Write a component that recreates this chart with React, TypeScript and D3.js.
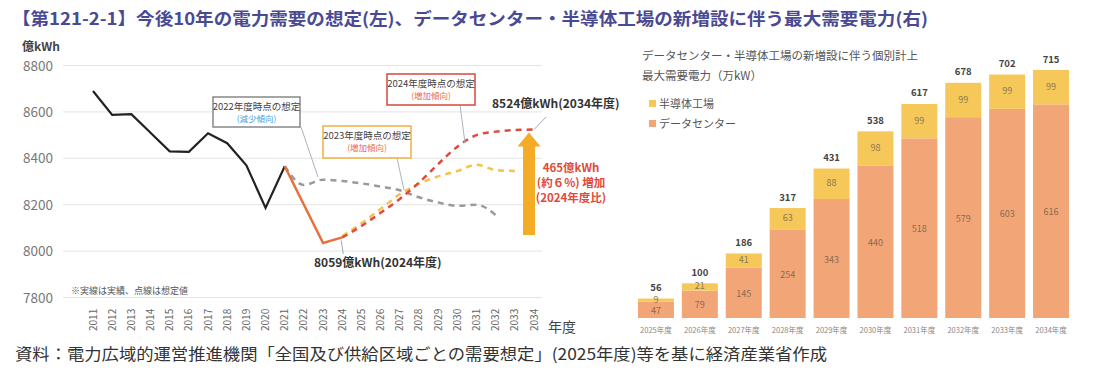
import React, { useRef, useEffect } from "react";
import * as d3 from "d3";

// left chart: demand outlook (億kWh)
const years = d3.range(2011, 2035).map(String);
const actualYears = ["2011", "2012", "2013", "2014", "2015", "2016", "2017", "2018", "2019", "2020", "2021"];
const actualValues = [8690, 8587, 8590, 8510, 8430, 8428, 8508, 8465, 8370, 8186, 8366];
const recentYears = ["2021", "2022", "2023", "2024"];
const recentValues = [8366, 8200, 8035, 8059];
const fc2022Years = ["2021", "2022", "2023", "2024", "2025", "2026", "2027", "2028", "2029", "2030", "2031", "2032"];
const fc2022Values = [8366, 8285, 8308, 8302, 8292, 8278, 8262, 8232, 8210, 8195, 8200, 8155];
const fc2023Years = ["2024", "2025", "2026", "2027", "2028", "2029", "2030", "2031", "2032", "2033"];
const fc2023Values = [8065, 8120, 8182, 8245, 8290, 8322, 8345, 8372, 8350, 8345];
const fc2024Years = ["2024", "2025", "2026", "2027", "2028", "2029", "2030", "2031", "2032", "2033", "2034"];
const fc2024Values = [8059, 8108, 8165, 8225, 8295, 8375, 8450, 8500, 8515, 8522, 8524];
const yTicks = [7800, 8000, 8200, 8400, 8600, 8800];

// right chart: max demand (万kW)
const barYears = ["2025年度", "2026年度", "2027年度", "2028年度", "2029年度", "2030年度", "2031年度", "2032年度", "2033年度", "2034年度"];
const dataCenter = [47, 79, 145, 254, 343, 440, 518, 579, 603, 616];
const semiconductor = [9, 21, 41, 63, 88, 98, 99, 99, 99, 99];
const totals = [56, 100, 186, 317, 431, 538, 617, 678, 702, 715];

const FONT = "'Noto Sans CJK JP', 'Noto Sans', sans-serif";
const DC_COLOR = "#f2a677";
const SEMI_COLOR = "#f6c85a";

const App: React.FC = () => {
  const ref = useRef<SVGSVGElement | null>(null);

  useEffect(() => {
    const svg = d3.select(ref.current);
    svg.selectAll("*").remove();
    svg.attr("width", 1100).attr("height", 374).style("font-family", FONT);

    svg.append("rect").attr("width", 1100).attr("height", 374).attr("fill", "#fff");

    // title + footer
    svg.append("text")
      .attr("x", 12).attr("y", 25)
      .attr("textLength", 916).attr("lengthAdjust", "spacingAndGlyphs")
      .style("font-size", "17px").style("font-weight", "bold").attr("fill", "#4a4a94")
      .text("【第121-2-1】今後10年の電力需要の想定(左)、データセンター・半導体工場の新増設に伴う最大需要電力(右)");
    svg.append("text")
      .attr("x", 15).attr("y", 360)
      .attr("textLength", 812).attr("lengthAdjust", "spacingAndGlyphs")
      .style("font-size", "16px").attr("fill", "#333")
      .text("資料：電力広域的運営推進機関「全国及び供給区域ごとの需要想定」(2025年度)等を基に経済産業省作成");

    // ---------- left chart ----------
    const x = d3.scalePoint<string>().domain(years).range([93, 534]);
    const y = d3.scaleLinear().domain([7800, 8800]).range([297.5, 65.5]);
    const left = svg.append("g");

    left.selectAll("line.grid")
      .data(yTicks)
      .enter()
      .append("line")
      .attr("x1", 63).attr("x2", 542)
      .attr("y1", (d) => y(d)).attr("y2", (d) => y(d))
      .attr("stroke", "#e4e4e4").attr("stroke-width", 1);

    left.selectAll("text.ytick")
      .data(yTicks)
      .enter()
      .append("text")
      .attr("x", 23).attr("y", (d) => y(d) + 5)
      .style("font-size", "13.5px").attr("fill", "#777")
      .text((d) => d);

    left.append("text").attr("x", 22).attr("y", 51)
      .style("font-size", "12px").style("font-weight", "bold").attr("fill", "#444")
      .text("億kWh");

    left.selectAll("text.xtick")
      .data(years)
      .enter()
      .append("text")
      .attr("transform", (d) => `translate(${x(d)! + 3.5},331) rotate(-90)`)
      .style("font-size", "10px").attr("fill", "#666")
      .text((d) => d);

    left.append("text").attr("x", 548).attr("y", 332)
      .style("font-size", "14px").attr("fill", "#444").text("年度");

    left.append("text").attr("x", 71).attr("y", 294)
      .style("font-size", "9px").attr("fill", "#555").text("※実線は実績、点線は想定値");

    const line = d3.line<[string, number]>().x((d) => x(d[0])!).y((d) => y(d[1]));
    const smooth = d3.line<[string, number]>().x((d) => x(d[0])!).y((d) => y(d[1])).curve(d3.curveMonotoneX);
    const zip = (a: string[], b: number[]) => a.map((k, i) => [k, b[i]] as [string, number]);

    const dashed = [
      { data: zip(fc2022Years, fc2022Values), color: "#9a9a9a" },
      { data: zip(fc2023Years, fc2023Values), color: "#f3c34e" },
      { data: zip(fc2024Years, fc2024Values), color: "#df4a3c" },
    ];
    left.selectAll("path.fc")
      .data(dashed)
      .enter()
      .append("path")
      .attr("d", (d) => smooth(d.data))
      .attr("fill", "none")
      .attr("stroke", (d) => d.color)
      .attr("stroke-width", 2.5)
      .attr("stroke-dasharray", "6 5");

    left.append("path").attr("d", line(zip(actualYears, actualValues)))
      .attr("fill", "none").attr("stroke", "#222").attr("stroke-width", 2.2);
    left.append("path").attr("d", line(zip(recentYears, recentValues)))
      .attr("fill", "none").attr("stroke", "#e8703a").attr("stroke-width", 2.5);

    // annotation boxes
    const boxes = [
      { x: 213, y: 97, w: 87, h: 30, stroke: "#888", title: "2022年度時点の想定", sub: "(減少傾向)", subColor: "#4aa3df", lx1: 301, ly1: 127, lx2: 318, ly2: 177 },
      { x: 323, y: 126, w: 88, h: 32, stroke: "#f0b040", title: "2023年度時点の想定", sub: "(増加傾向)", subColor: "#e8704a", lx1: 397, ly1: 158, lx2: 404, ly2: 190 },
      { x: 387, y: 74, w: 88, h: 31, stroke: "#d9483a", title: "2024年度時点の想定", sub: "(増加傾向)", subColor: "#e8704a", lx1: 460, ly1: 105, lx2: 465, ly2: 143 },
    ];
    boxes.forEach((b) => {
      left.append("line").attr("x1", b.lx1).attr("y1", b.ly1).attr("x2", b.lx2).attr("y2", b.ly2)
        .attr("stroke", "#aab4c0").attr("stroke-width", 1);
      left.append("rect").attr("x", b.x).attr("y", b.y).attr("width", b.w).attr("height", b.h)
        .attr("fill", "#fff").attr("stroke", b.stroke).attr("stroke-width", 1.5);
      left.append("text").attr("x", b.x + b.w / 2).attr("y", b.y + 12.5)
        .attr("text-anchor", "middle").style("font-size", "9.5px").attr("fill", "#444").text(b.title);
      left.append("text").attr("x", b.x + b.w / 2).attr("y", b.y + 25)
        .attr("text-anchor", "middle").style("font-size", "8.5px").attr("fill", b.subColor).text(b.sub);
    });

    // value callouts
    const last = fc2024Values[fc2024Values.length - 1];
    left.append("line").attr("x1", x("2034")!).attr("y1", y(last)).attr("x2", 546).attr("y2", 117)
      .attr("stroke", "#9aabbd").attr("stroke-width", 1);
    left.append("text").attr("x", 492).attr("y", 108)
      .style("font-size", "12px").style("font-weight", "bold").attr("fill", "#333")
      .text("8524億kWh(2034年度)");

    left.append("line").attr("x1", x("2024")! - 1).attr("y1", y(8059) + 3).attr("x2", x("2024")! + 1).attr("y2", 254)
      .attr("stroke", "#9aabbd").attr("stroke-width", 1);
    left.append("text").attr("x", 314).attr("y", 267)
      .style("font-size", "12px").style("font-weight", "bold").attr("fill", "#333")
      .text("8059億kWh(2024年度)");

    // increase arrow
    const ax = 529;
    const top = y(last) + 3;
    left.append("path")
      .attr("d", `M${ax},${top} L${ax + 11.5},${top + 14} L${ax + 6},${top + 14} L${ax + 6},235 L${ax - 6},235 L${ax - 6},${top + 14} L${ax - 11.5},${top + 14} Z`)
      .attr("fill", "#f4ab26");
    ["465億kWh", "(約６%) 増加", "(2024年度比)"].forEach((t, i) => {
      left.append("text").attr("x", 571).attr("y", 172 + i * 15)
        .attr("text-anchor", "middle").style("font-size", "11.5px").style("font-weight", "bold")
        .attr("fill", "#e04a3a").text(t);
    });

    // ---------- right chart ----------
    const right = svg.append("g");
    const xb = d3.scaleBand<string>().domain(barYears).range([634, 1073]).paddingInner(0.18).paddingOuter(0.09);
    const yb = d3.scaleLinear().domain([0, 715]).range([318, 70]);

    right.append("text").attr("x", 642).attr("y", 60)
      .style("font-size", "11.5px").attr("fill", "#555")
      .text("データセンター・半導体工場の新増設に伴う個別計上");
    right.append("text").attr("x", 642).attr("y", 80)
      .style("font-size", "11.5px").attr("fill", "#555")
      .text("最大需要電力（万kW）");

    const legend = [
      { label: "半導体工場", color: SEMI_COLOR },
      { label: "データセンター", color: DC_COLOR },
    ];
    legend.forEach((l, i) => {
      right.append("rect").attr("x", 649).attr("y", 100 + i * 20).attr("width", 7).attr("height", 7).attr("fill", l.color);
      right.append("text").attr("x", 659).attr("y", 107.5 + i * 20)
        .style("font-size", "11px").attr("fill", "#555").text(l.label);
    });

    const bars = barYears.map((k, i) => ({ k, dc: dataCenter[i], semi: semiconductor[i], total: totals[i] }));
    const bw = xb.bandwidth();

    const g = right.selectAll("g.bar").data(bars).enter().append("g");
    g.append("rect")
      .attr("x", (d) => xb(d.k)!).attr("width", bw)
      .attr("y", (d) => yb(d.dc)).attr("height", (d) => yb(0) - yb(d.dc))
      .attr("fill", DC_COLOR);
    g.append("rect")
      .attr("x", (d) => xb(d.k)!).attr("width", bw)
      .attr("y", (d) => yb(d.dc + d.semi)).attr("height", (d) => yb(d.dc) - yb(d.dc + d.semi))
      .attr("fill", SEMI_COLOR);
    g.append("text")
      .attr("x", (d) => xb(d.k)! + bw / 2).attr("y", (d) => (yb(0) + yb(d.dc)) / 2 + 4)
      .attr("text-anchor", "middle").style("font-size", "9px").attr("fill", "#8a6a52")
      .text((d) => d.dc);
    g.append("text")
      .attr("x", (d) => xb(d.k)! + bw / 2).attr("y", (d) => (yb(d.dc) + yb(d.dc + d.semi)) / 2 + 2.5)
      .attr("text-anchor", "middle").style("font-size", "9px").attr("fill", "#8a7a52")
      .text((d) => d.semi);
    g.append("text")
      .attr("x", (d) => xb(d.k)! + bw / 2).attr("y", (d) => yb(d.total) - 7.5)
      .attr("text-anchor", "middle").style("font-size", "9.5px").style("font-weight", "bold").attr("fill", "#444")
      .text((d) => d.total);
    g.append("text")
      .attr("x", (d) => xb(d.k)! + bw / 2).attr("y", 333)
      .attr("text-anchor", "middle").style("font-size", "7.5px").attr("fill", "#888")
      .text((d) => d.k);
  }, []);

  return <svg ref={ref} style={{ position: "absolute", left: 0, top: 0, display: "block" }} />;
};

export default App;
